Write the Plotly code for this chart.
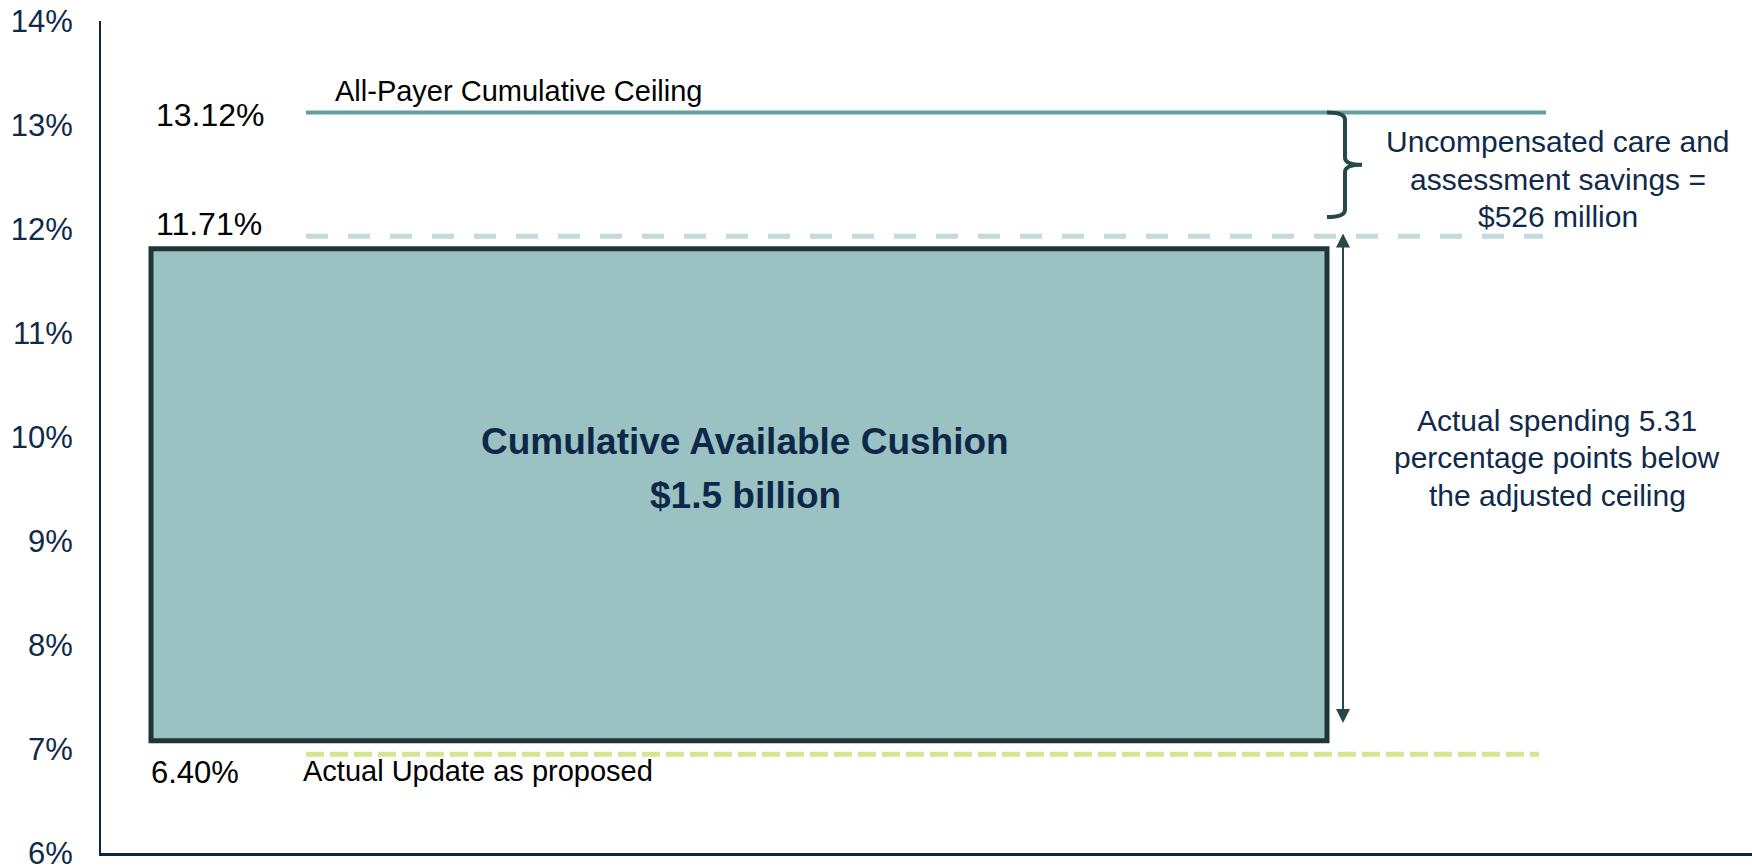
import plotly.graph_objects as go

# ---- data ----
line_names = ["All-Payer Cumulative Ceiling", "Adjusted ceiling", "Actual Update as proposed"]
line_levels = [13.12, 11.93, 6.95]
value_labels = ["13.12%", "11.71%", "6.40%"]
cushion_bottom_top = [7.08, 11.81]
cushion_title = ["Cumulative Available Cushion", "$1.5 billion"]
savings_text = ["Uncompensated care and", "assessment savings =", "$526 million"]
spending_text = ["Actual spending 5.31", "percentage points below", "the adjusted ceiling"]
y_ticks = [6, 7, 8, 9, 10, 11, 12, 13, 14]
y_tick_text = ["6%", "7%", "8%", "9%", "10%", "11%", "12%", "13%", "14%"]

FONT = "Liberation Sans, Arial, sans-serif"
NAVY = "#0f2a4a"
DARK = "#1f3634"
TEAL = "#62a0a1"
LIGHT = "#c3dcdb"
GREEN = "#d4e68f"
FILL = "#9bc2c3"
ARROW = "#264848"

fig = go.Figure()

# horizontal reference lines
line_styles = [
    dict(color=TEAL, width=4, dash="solid"),
    dict(color=LIGHT, width=5, dash="22px,20px"),
    dict(color=GREEN, width=5, dash="18px,6px"),
]
line_x = [[205, 1445], [205, 1442], [205, 1438]]
for name, lvl, st, xs in zip(line_names, line_levels, line_styles, line_x):
    fig.add_trace(go.Scatter(x=xs, y=[lvl, lvl], mode="lines", line=st,
                             name=name, showlegend=False, hoverinfo="skip"))

# cushion rectangle
fig.add_shape(type="rect", xref="x", yref="y", x0=50, x1=1226,
              y0=cushion_bottom_top[0], y1=cushion_bottom_top[1],
              fillcolor=FILL, line=dict(color=DARK, width=5), layer="below")

# curly bracket between ceiling and adjusted ceiling
yt = line_levels[0]
yb = line_levels[1] + 0.185
ym = (yt + yb) / 2
d = 0.07
x0, xv, xt = 1226, 1244, 1261
path = (f"M {x0},{yt} Q {xv},{yt} {xv},{yt-d} L {xv},{ym+d} "
        f"Q {xv},{ym} {xt},{ym} Q {xv},{ym} {xv},{ym-d} "
        f"L {xv},{yb+d} Q {xv},{yb} {x0},{yb}")
fig.add_shape(type="path", xref="x", yref="y", path=path,
              line=dict(color=ARROW, width=4))

# double-headed arrow
fig.add_annotation(x=1242, y=cushion_bottom_top[0] + 0.17, ax=1242, ay=line_levels[1] + 0.04,
                   xref="x", yref="y", axref="x", ayref="y", text="",
                   showarrow=True, arrowhead=2, arrowside="end+start",
                   arrowwidth=2, arrowsize=1.4, arrowcolor=ARROW)

# value labels
ann = []
ann.append(dict(x=53, y=line_levels[0] - 0.02, text=value_labels[0], xanchor="left", size=32))
ann.append(dict(x=53, y=line_levels[1] + 0.12, text=value_labels[1], xanchor="left", size=32))
ann.append(dict(x=48, y=cushion_bottom_top[0] - 0.31, text=value_labels[2], xanchor="left", size=31))
ann.append(dict(x=232, y=line_levels[0] + 0.21, text=line_names[0], xanchor="left", size=29))
ann.append(dict(x=200, y=line_levels[2] - 0.16, text=line_names[2], xanchor="left", size=29))
for a in ann:
    sz = a.pop("size")
    fig.add_annotation(xref="x", yref="y", showarrow=False, yanchor="middle",
                       font=dict(family=FONT, size=sz, color="#000000"), **a)

# cushion title
title_y = [9.96, 9.44]
for t, ty in zip(cushion_title, title_y):
    fig.add_annotation(x=644, y=ty, xref="x", yref="y", text=f"<b>{t}</b>",
                       showarrow=False, font=dict(family=FONT, size=37, color="#0d2848"))

# right-hand explanation texts
for i, t in enumerate(savings_text):
    fig.add_annotation(x=1457, y=12.84 - i * 0.36, xref="x", yref="y", text=t,
                       showarrow=False, font=dict(family=FONT, size=30, color=NAVY))
for i, t in enumerate(spending_text):
    fig.add_annotation(x=1456, y=10.16 - i * 0.36, xref="x", yref="y", text=t,
                       showarrow=False, font=dict(family=FONT, size=30, color=NAVY))

fig.update_layout(
    width=1752, height=867,
    margin=dict(l=101, r=0, t=21, b=14, autoexpand=False),
    paper_bgcolor="white", plot_bgcolor="white",
    showlegend=False,
)
fig.update_xaxes(range=[0, 1651], showgrid=False, zeroline=False, showticklabels=False,
                 showline=True, linecolor="#0b2545", linewidth=3, ticks="", automargin=False)
fig.update_yaxes(range=[6, 14], tickvals=y_ticks, ticktext=y_tick_text, showgrid=False,
                 zeroline=False, showline=True, linecolor="#0b2545", linewidth=2, ticks="",
                 ticklabelstandoff=20, ticklabeloverflow="allow", automargin=False,
                 tickfont=dict(family=FONT, size=31, color=NAVY))

fig.write_html("out.html", config={"displayModeBar": False},
               post_script="document.body.style.margin='0';")
